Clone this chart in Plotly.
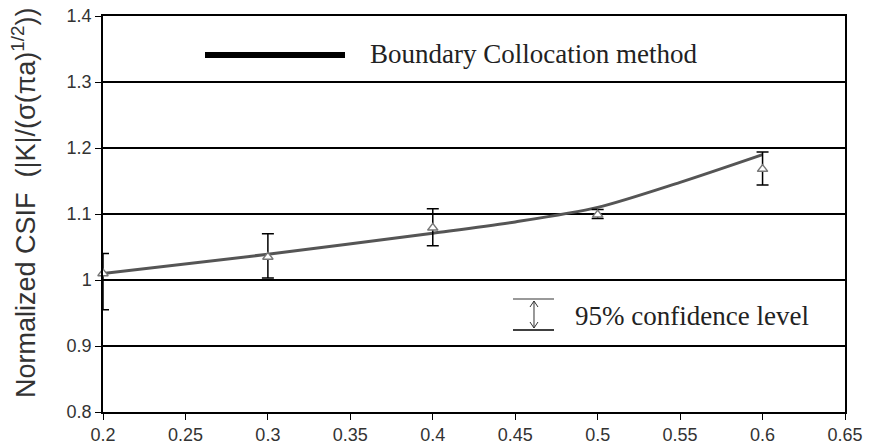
import plotly.graph_objects as go

# Boundary collocation curve
bc_x = [0.2, 0.3, 0.4, 0.45, 0.5, 0.55, 0.6]
bc_y = [1.01, 1.039, 1.071, 1.088, 1.11, 1.148, 1.19]

# Experimental points with 95% confidence bounds
exp_x = [0.2, 0.3, 0.4, 0.5, 0.6]
exp_y = [1.01, 1.035, 1.079, 1.099, 1.168]
exp_hi = [1.04, 1.07, 1.108, 1.107, 1.194]
exp_lo = [0.955, 1.003, 1.052, 1.093, 1.144]

x_ticks = [0.2, 0.25, 0.3, 0.35, 0.4, 0.45, 0.5, 0.55, 0.6, 0.65]
x_labels = ["0.2", "0.25", "0.3", "0.35", "0.4", "0.45", "0.5", "0.55", "0.6", "0.65"]
y_ticks = [0.8, 0.9, 1.0, 1.1, 1.2, 1.3, 1.4]
y_labels = ["0.8", "0.9", "1", "1.1", "1.2", "1.3", "1.4"]

fig = go.Figure()
fig.add_trace(go.Scatter(
    x=bc_x, y=bc_y, mode="lines",
    line=dict(color="#555555", width=3, shape="spline", smoothing=0.8),
    showlegend=False, hoverinfo="skip"))
fig.add_trace(go.Scatter(
    x=exp_x, y=exp_y, mode="markers",
    marker=dict(symbol="triangle-up", size=9, color="white",
                line=dict(color="#777777", width=1.5)),
    error_y=dict(type="data", symmetric=False,
                 array=[h - y for h, y in zip(exp_hi, exp_y)],
                 arrayminus=[y - l for l, y in zip(exp_lo, exp_y)],
                 color="black", thickness=1.5, width=6),
    cliponaxis=False, showlegend=False))

W, H = 870, 448
L, R, T, B = 103, 25, 16, 36
PW = W - L - R
PH = H - T - B


def px_x(p):
    return (p - L) / PW


def px_y(p):
    return (H - B - p) / PH


def path(points):
    return "M " + " L ".join(f"{px_x(a):.5f},{px_y(b):.5f}" for a, b in points)


serif = "Liberation Serif, Times New Roman, serif"
shapes = [
    dict(type="line", xref="paper", yref="paper", x0=px_x(205), x1=px_x(345),
         y0=px_y(55), y1=px_y(55), line=dict(color="black", width=6)),
    dict(type="line", xref="paper", yref="paper", x0=px_x(513), x1=px_x(554),
         y0=px_y(299), y1=px_y(299), line=dict(color="#777777", width=1.5)),
    dict(type="line", xref="paper", yref="paper", x0=px_x(513), x1=px_x(554),
         y0=px_y(330), y1=px_y(330), line=dict(color="black", width=1.5)),
    dict(type="path", xref="paper", yref="paper", path=path([(534, 301), (534, 328)]),
         line=dict(color="#333333", width=1)),
    dict(type="path", xref="paper", yref="paper", path=path([(530, 307), (534, 301), (538, 307)]),
         line=dict(color="#333333", width=1)),
    dict(type="path", xref="paper", yref="paper", path=path([(530, 322), (534, 328), (538, 322)]),
         line=dict(color="#333333", width=1)),
]

annotations = [
    dict(xref="paper", yref="paper", x=px_x(368), y=px_y(54), xanchor="left",
         yanchor="middle", showarrow=False, text="Boundary Collocation method",
         font=dict(family=serif, size=27, color="#222222")),
    dict(xref="paper", yref="paper", x=px_x(573), y=px_y(316), xanchor="left",
         yanchor="middle", showarrow=False, text="95% confidence level",
         font=dict(family=serif, size=27, color="#222222")),
    dict(xref="paper", yref="paper", x=px_x(24), y=px_y(203), xanchor="center",
         yanchor="middle", showarrow=False, textangle=-90,
         text="Normalized CSIF  (|K|/(σ(πa)<sup>1/2</sup>))",
         font=dict(family="Arial, Liberation Sans, sans-serif", size=27, color="#333333")),
]

fig.update_layout(
    width=W, height=H,
    margin=dict(l=L, r=R, t=T, b=B),
    paper_bgcolor="white", plot_bgcolor="white",
    shapes=shapes, annotations=annotations,
    font=dict(family="Arial, Liberation Sans, sans-serif", color="#333333"),
    xaxis=dict(range=[0.2, 0.65], tickvals=x_ticks, ticktext=x_labels,
               showgrid=False, zeroline=False, showline=True, linecolor="black",
               linewidth=1.5, mirror=True, ticks="outside", ticklen=6,
               tickcolor="black", tickfont=dict(size=18, color="#333333"),
               automargin=False),
    yaxis=dict(range=[0.8, 1.4], tickvals=y_ticks, ticktext=y_labels,
               showgrid=True, gridcolor="black", gridwidth=1.5, zeroline=False,
               showline=True, linecolor="black", linewidth=1.5, mirror=True,
               ticks="outside", ticklen=6, tickcolor="black",
               tickfont=dict(size=18, color="#333333"), automargin=False),
)

fig.write_html("out.html", config={"displayModeBar": False},
               post_script="document.body.style.margin='0';")
